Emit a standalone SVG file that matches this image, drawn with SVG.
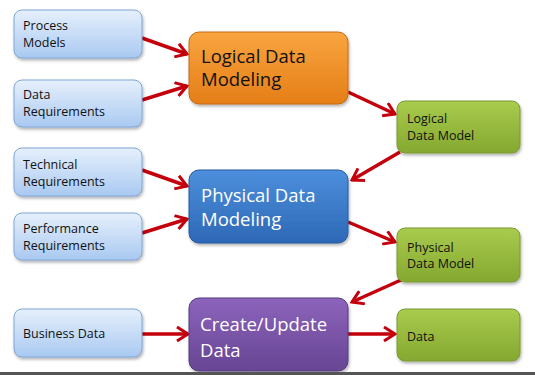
<svg xmlns="http://www.w3.org/2000/svg" width="535" height="375" viewBox="0 0 535 375">
<defs>
<linearGradient id="gLight" x1="0" y1="0" x2="0" y2="1"><stop offset="0" stop-color="#e6f0fc"/><stop offset="1" stop-color="#a9c9f1"/></linearGradient>
<linearGradient id="gOrange" x1="0" y1="0" x2="0" y2="1"><stop offset="0" stop-color="#f9a540"/><stop offset="1" stop-color="#e57e17"/></linearGradient>
<linearGradient id="gBlue" x1="0" y1="0" x2="0" y2="1"><stop offset="0" stop-color="#4d8fdc"/><stop offset="1" stop-color="#2d68b6"/></linearGradient>
<linearGradient id="gPurple" x1="0" y1="0" x2="0" y2="1"><stop offset="0" stop-color="#8c64bc"/><stop offset="1" stop-color="#674593"/></linearGradient>
<linearGradient id="gGreen" x1="0" y1="0" x2="0" y2="1"><stop offset="0" stop-color="#a9cb4e"/><stop offset="1" stop-color="#84a82f"/></linearGradient>
<filter id="sh" x="-10%" y="-10%" width="125%" height="130%"><feDropShadow dx="1" dy="2" stdDeviation="1.5" flood-color="#000" flood-opacity="0.3"/></filter>
<marker id="ah" viewBox="0 0 14 16" refX="12" refY="8" markerWidth="14" markerHeight="16" markerUnits="userSpaceOnUse" orient="auto">
<path d="M1,1 L12,8 L1,15" fill="none" stroke="#c4000c" stroke-width="3" stroke-linejoin="miter"/>
</marker>
</defs>
<style>
.small{fill:url(#gLight);stroke:#7fa6d6;stroke-width:1;filter:url(#sh)}
.green{fill:url(#gGreen);stroke:#7a9a35;stroke-width:1;filter:url(#sh)}
.big{stroke-width:1;filter:url(#sh)}
.t{font-family:"Open Sans","Liberation Sans",sans-serif;font-size:12.5px;fill:#111}
.tb{font-family:"Open Sans","Liberation Sans",sans-serif;font-size:18.5px}
.c{fill:none;stroke:#c4000c;stroke-width:3.5;marker-end:url(#ah)}
</style>
<rect width="535" height="375" fill="#fff"/>
<g id="connectors">
<line class="c" x1="142" y1="38" x2="187" y2="54"/>
<line class="c" x1="142" y1="100" x2="187" y2="86"/>
<line class="c" x1="348" y1="92" x2="395" y2="114"/>
<line class="c" x1="400" y1="152" x2="352" y2="180"/>
<line class="c" x1="142" y1="170" x2="187" y2="186"/>
<line class="c" x1="142" y1="233" x2="187" y2="219"/>
<line class="c" x1="348" y1="222" x2="395" y2="242"/>
<line class="c" x1="401" y1="280" x2="352" y2="302"/>
<line class="c" x1="142" y1="334" x2="188" y2="334"/>
<line class="c" x1="348" y1="334" x2="395" y2="334"/>
</g>
<g id="process-models"><rect class="small" x="14" y="10" width="128" height="48" rx="8"/><text class="t" x="23" y="30">Process</text><text class="t" x="23" y="47">Models</text></g>
<g id="data-requirements"><rect class="small" x="14" y="80" width="128" height="47" rx="8"/><text class="t" x="23" y="99">Data</text><text class="t" x="23" y="116">Requirements</text></g>
<g id="technical-requirements"><rect class="small" x="14" y="148" width="128" height="48" rx="8"/><text class="t" x="23" y="169">Technical</text><text class="t" x="23" y="186">Requirements</text></g>
<g id="performance-requirements"><rect class="small" x="14" y="213" width="128" height="47" rx="8"/><text class="t" x="23" y="233">Performance</text><text class="t" x="23" y="250">Requirements</text></g>
<g id="business-data"><rect class="small" x="14" y="309" width="128" height="48" rx="8"/><text class="t" x="23" y="338">Business Data</text></g>
<g id="logical-data-modeling"><rect class="big" x="189" y="32" width="159" height="72" rx="10" fill="url(#gOrange)" stroke="#c46a10"/><text class="tb" x="201" y="63" fill="#111">Logical Data</text><text class="tb" x="201" y="86" fill="#111">Modeling</text></g>
<g id="physical-data-modeling"><rect class="big" x="189" y="170" width="159" height="73" rx="10" fill="url(#gBlue)" stroke="#255a9e"/><text class="tb" x="201" y="202" fill="#fff">Physical Data</text><text class="tb" x="201" y="226" fill="#fff">Modeling</text></g>
<g id="create-update-data"><rect class="big" x="189" y="298" width="159" height="73" rx="10" fill="url(#gPurple)" stroke="#553a7e"/><text class="tb" x="200" y="331" fill="#fff">Create/Update</text><text class="tb" x="200" y="357" fill="#fff">Data</text></g>
<g id="logical-data-model"><rect class="green" x="397" y="101" width="123" height="52" rx="8"/><text class="t" x="407" y="123">Logical</text><text class="t" x="407" y="140">Data Model</text></g>
<g id="physical-data-model"><rect class="green" x="397" y="228" width="123" height="54" rx="8"/><text class="t" x="407" y="252">Physical</text><text class="t" x="407" y="268">Data Model</text></g>
<g id="data"><rect class="green" x="397" y="309" width="123" height="52" rx="8"/><text class="t" x="407" y="341">Data</text></g>
<line x1="0" y1="373.5" x2="535" y2="373.5" stroke="#555" stroke-width="3"/>
</svg>
